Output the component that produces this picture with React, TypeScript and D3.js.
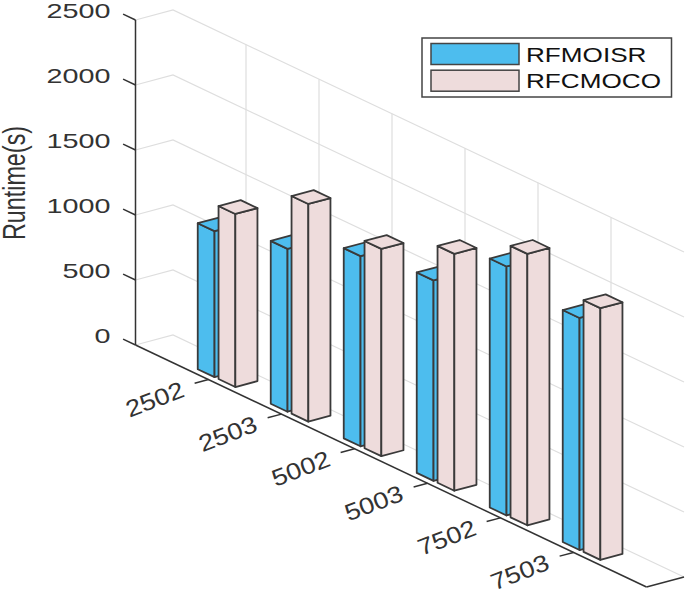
import { useEffect, useRef } from "react";
import * as d3 from "d3";

const categories = ["2502", "2503", "5002", "5003", "7502", "7503"];
const rfmoisr = [1123, 1253, 1463, 1542, 1915, 1785];
const rfcmoco = [1331, 1674, 1594, 1822, 2088, 1936];
const zTicks = [0, 500, 1000, 1500, 2000, 2500];
const legendNames = ["RFMOISR", "RFCMOCO"];
const colors = ["#4dbdee", "#eedcdc"];

const App = () => {
    const ref = useRef<SVGSVGElement>(null);

    useEffect(() => {
        const svg = d3.select(ref.current);
        svg.selectAll("*").remove();

        // oblique projection, like the matlab bar3 view
        const xPx = d3.scaleLinear().domain([0, 7]).range([135.5, 646.5]);
        const xDrop = d3.scaleLinear().domain([0, 7]).range([0, 242]);
        const dPx = d3.scaleLinear().domain([0, 1]).range([0, 37.5]);
        const dRise = d3.scaleLinear().domain([0, 1]).range([0, 10]);
        const zRise = d3.scaleLinear().domain([0, 2500]).range([0, 325]);

        const project = (x: number, d: number, z: number): [number, number] => [
            xPx(x) + dPx(d),
            345 + xDrop(x) - dRise(d) - zRise(z),
        ];
        const line = d3.line();
        const path = (pts: [number, number][], close = false) => line(pts) + (close ? "Z" : "");

        // grid on the two walls
        const grid = svg.append("g").attr("fill", "none").attr("stroke", "#dedede").attr("stroke-width", 1.2);
        zTicks.forEach(z => {
            grid.append("path").attr("d", path([project(0, 0, z), project(0, 1, z), project(7, 1, z)]));
        });
        d3.range(1, 7).forEach(i => {
            grid.append("path").attr("d", path([project(i, 1, 0), project(i, 1, 2500)]));
        });

        // axes
        const axes = svg.append("g").attr("fill", "none").attr("stroke", "#333").attr("stroke-width", 1.5);
        axes.append("path").attr("d", path([project(0, 0, 0), project(0, 0, 2500)]));
        axes.append("path").attr("d", path([project(0, 0, 0), project(7, 0, 0)]));
        axes.append("path").attr("d", path([project(7, 0, 0), project(7, 1, 0)]));
        zTicks.forEach(z => {
            axes.append("path").attr("d", path([project(0, 0, z), project(-0.17, 0, z)]));
        });
        categories.forEach((c, i) => {
            axes.append("path").attr("d", path([project(i + 1, 0, 0), project(i + 1, -0.37, 0)]));
        });

        // bars, left to right so the later ones cover the earlier ones
        const d0 = 0.19, d1 = 0.78;
        const drawBar = (x0: number, x1: number, z: number, fill: string) => {
            const g = svg.append("g").attr("fill", fill).attr("stroke", "#3a3a3a").attr("stroke-width", 1.8).attr("stroke-linejoin", "round");
            g.append("path").attr("d", path([project(x0, d0, 0), project(x1, d0, 0), project(x1, d0, z), project(x0, d0, z)], true));
            g.append("path").attr("d", path([project(x1, d0, 0), project(x1, d1, 0), project(x1, d1, z), project(x1, d0, z)], true));
            g.append("path").attr("d", path([project(x0, d0, z), project(x1, d0, z), project(x1, d1, z), project(x0, d1, z)], true));
        };
        categories.forEach((c, i) => {
            drawBar(i + 1 - 0.245, i + 1 - 0.015, rfmoisr[i], colors[0]);
            drawBar(i + 1 + 0.04, i + 1 + 0.27, rfcmoco[i], colors[1]);
        });

        // tick labels
        zTicks.forEach(z => {
            const [px, py] = project(0, 0, z);
            svg.append("text")
                .attr("transform", `translate(${px - 25},${py - 2.5}) scale(1.44,1)`)
                .attr("text-anchor", "end")
                .attr("font-family", "Liberation Sans")
                .attr("font-size", 20)
                .attr("fill", "#333")
                .text(String(z));
        });
        categories.forEach((c, i) => {
            const [px, py] = project(i + 1, 0, 0);
            svg.append("text")
                .attr("transform", `translate(${px - 22.5},${py + 16.5}) rotate(-21) scale(1.16,1)`)
                .attr("text-anchor", "end")
                .attr("font-family", "Liberation Sans")
                .attr("font-size", 23.5)
                .attr("fill", "#333")
                .text(c);
        });

        // the label is squeezed along its length in the original
        svg.append("text")
            .attr("transform", "translate(24.5,183) rotate(-90) scale(0.73,1)")
            .attr("text-anchor", "middle")
            .attr("font-family", "Liberation Sans")
            .attr("font-size", 32)
            .attr("fill", "#333")
            .text("Runtime(s)");

        // legend
        const legend = svg.append("g");
        legend.append("rect").attr("x", 422).attr("y", 38).attr("width", 249.5).attr("height", 59)
            .attr("fill", "#fff").attr("stroke", "#444").attr("stroke-width", 1.5);
        legendNames.forEach((name, i) => {
            legend.append("rect").attr("x", 431).attr("y", 43.5 + i * 26.7).attr("width", 88).attr("height", 21)
                .attr("fill", colors[i]).attr("stroke", "#444").attr("stroke-width", 1.5);
            legend.append("text")
                .attr("transform", `translate(526,${61.5 + i * 26.7}) scale(1.34,1)`)
                .attr("font-family", "Liberation Sans")
                .attr("font-size", 19.5)
                .attr("fill", "#111")
                .text(name);
        });
    }, []);

    return (
        <svg ref={ref} width={685} height={590} style={{ position: "absolute", left: 0, top: 0, background: "#fff" }} />
    );
};

export default App;
